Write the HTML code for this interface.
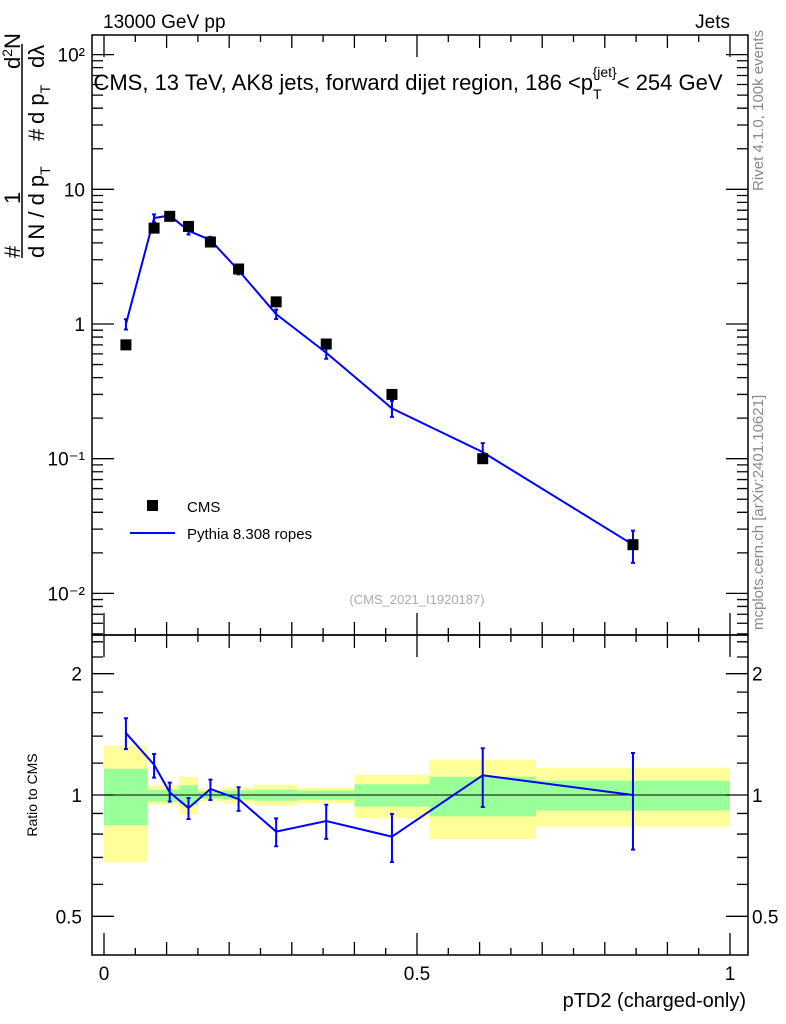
<!DOCTYPE html>
<html><head><meta charset="utf-8"><style>
body{margin:0;background:#fff;}
svg{display:block;font-family:"Liberation Sans",sans-serif;}
</style></head><body>
<svg id="c" width="786" height="1024" viewBox="0 0 786 1024">
<text x="103" y="28" font-size="19">13000 GeV pp</text>
<text x="730" y="28" font-size="19" text-anchor="end">Jets</text>
<text x="408" y="90" font-size="22" text-anchor="middle">CMS, 13 TeV, AK8 jets, forward dijet region, 186 &lt;p<tspan font-size="14" dy="9">T</tspan><tspan font-size="14" dy="-22" dx="-9">{jet}</tspan><tspan dy="13">&lt; 254 GeV</tspan></text>
<text transform="translate(763,30) rotate(-90)" font-size="15" fill="#888" text-anchor="end">Rivet 4.1.0,  100k events</text>
<text transform="translate(763,630) rotate(-90)" font-size="15" fill="#888">mcplots.cern.ch [arXiv:2401.10621]</text>
<g font-size="22">
<text transform="translate(20,258) rotate(-90)">#</text>
<text transform="translate(20,204) rotate(-90)">1</text>
<text transform="translate(20,69) rotate(-90)">d<tspan font-size="14" dy="-8">2</tspan><tspan dy="8">N</tspan></text>
<line x1="22" y1="44" x2="22" y2="258" stroke="#000" stroke-width="1.5"/>
<text transform="translate(44,258) rotate(-90)">d N / d p<tspan font-size="14" dy="6">T</tspan></text>
<text transform="translate(44,141) rotate(-90)">#</text>
<text transform="translate(44,124) rotate(-90)">d p<tspan font-size="14" dy="6">T</tspan></text>
<text transform="translate(44,68) rotate(-90)">dλ</text>
</g>
<text x="417" y="604" font-size="13" fill="#aaa" text-anchor="middle">(CMS_2021_I1920187)</text>
<rect x="147" y="500" width="11" height="11" fill="#000"/>
<text x="187" y="512" font-size="15">CMS</text>
<line x1="130" y1="533" x2="175" y2="533" stroke="#00f" stroke-width="2"/>
<text x="187" y="539" font-size="15">Pythia 8.308 ropes</text>
<text transform="translate(37,795) rotate(-90)" font-size="14" text-anchor="middle">Ratio to CMS</text>
<text x="746" y="1007" font-size="20" text-anchor="end">pTD2 (charged-only)</text>
<g id="g"></g>
</svg>
<script>
const binEdges=[0,0.07,0.09,0.12,0.15,0.19,0.24,0.31,0.40,0.52,0.69,1.0];
const xPoints=[0.035,0.08,0.105,0.135,0.17,0.215,0.275,0.355,0.46,0.605,0.845];
const cmsValues=[0.70,5.15,6.3,5.3,4.06,2.56,1.46,0.71,0.30,0.10,0.023];
const mcRatio=[1.425,1.189,1.015,0.928,1.035,0.977,0.811,0.862,0.788,1.119,1.0];
const mcRatioHi=[1.55,1.264,1.073,0.983,1.092,1.045,0.875,0.946,0.897,1.306,1.271];
const mcRatioLo=[1.30,1.104,0.963,0.872,0.972,0.913,0.746,0.778,0.682,0.934,0.732];
const bandYellowHi=[1.325,1.057,1.057,1.110,1.031,1.045,1.061,1.041,1.123,1.224,1.169];
const bandYellowLo=[0.681,0.946,0.946,0.894,0.964,0.953,0.941,0.955,0.875,0.778,0.834];
const bandGreenHi=[1.162,1.031,1.031,1.057,1.02,1.027,1.031,1.025,1.063,1.110,1.085];
const bandGreenLo=[0.841,0.964,0.964,0.946,0.98,0.974,0.968,0.974,0.936,0.885,0.915];
const mainTickLabels=["10⁻²","10⁻¹","1","10","10²"];
const ratioTickLabels=["0.5","1","2"];
const xTickLabels=["0","0.5","1"];

const NS="http://www.w3.org/2000/svg";
const g=document.getElementById('g');
const L=92,R=748,T=35,MB=635,RB=955;
const X=v=>104+626*v;
const Ym=v=>324-134.7*Math.log10(v);
const Yr=v=>795-121.3*Math.log2(v);
function mk(t,a){const e=document.createElementNS(NS,t);for(const k in a)e.setAttribute(k,a[k]);g.appendChild(e);return e;}
for(let i=0;i<xPoints.length;i++){
 const x0=X(binEdges[i]),x1=X(binEdges[i+1]);
 let e=mk('rect',{x:x0,y:Yr(bandYellowHi[i]),width:x1-x0,height:Yr(bandYellowLo[i])-Yr(bandYellowHi[i]),fill:'#ffff99'});
 
 
 e=mk('rect',{x:x0,y:Yr(bandGreenHi[i]),width:x1-x0,height:Yr(bandGreenLo[i])-Yr(bandGreenHi[i]),fill:'#99ff99'});
 
 
}
let e=mk('line',{x1:L,x2:R,y1:Yr(1),y2:Yr(1),stroke:'#000','stroke-width':1});


let pm='',pr='';
xPoints.forEach((x,i)=>{const v=cmsValues[i]*mcRatio[i];pm+=(i?'L':'M')+X(x)+','+Ym(v);pr+=(i?'L':'M')+X(x)+','+Yr(mcRatio[i]);});
e=mk('path',{d:pm,fill:'none',stroke:'#00f','stroke-width':2});


e=mk('path',{d:pr,fill:'none',stroke:'#00f','stroke-width':2});


function eb(x,y1,y2,name){const p='M'+x+','+y1+'V'+y2+'M'+(x-2)+','+y1+'h4M'+(x-2)+','+y2+'h4';
 const el=mk('path',{d:p,stroke:'#00f','stroke-width':2,fill:'none'});
 
 }
xPoints.forEach((x,i)=>{
 eb(X(x),Ym(cmsValues[i]*mcRatioHi[i]),Ym(cmsValues[i]*mcRatioLo[i]),'pythia-error-bar');
 eb(X(x),Yr(mcRatioHi[i]),Yr(mcRatioLo[i]),'pythia-ratio-error-bar');
 const s=mk('rect',{x:X(x)-5.5,y:Ym(cmsValues[i])-5.5,width:11,height:11,fill:'#000'});
 
 
});
e=mk('rect',{x:L,y:T,width:R-L,height:MB-T,fill:'none',stroke:'#000','stroke-width':1.5});


e=mk('rect',{x:L,y:MB,width:R-L,height:RB-MB,fill:'none',stroke:'#000','stroke-width':1.5});


let tk='';
for(let d=-3;d<=2;d++)for(let m=1;m<10;m++){const y=Ym(m*Math.pow(10,d));if(y<T||y>MB)continue;const len=m==1?22:11;tk+='M'+L+','+y+'h'+len+'M'+R+','+y+'h-'+len;}
[0.5,0.6,0.7,0.8,0.9,1,1.2,1.4,1.6,1.8,2,2.2,2.4].forEach(v=>{const y=Yr(v);const len=(v==0.5||v==1||v==2)?22:11;tk+='M'+L+','+y+'h'+len+'M'+R+','+y+'h-'+len;});
for(let k=0;k<=20;k++){const v=k*0.05,x=X(v);const len=k%10==0?22:(k%2==0?13:7);
 tk+='M'+x+','+RB+'v-'+len+'M'+x+','+MB+'v'+len+'M'+x+','+MB+'v-'+len+'M'+x+','+T+'v'+len;}
e=mk('path',{d:tk,stroke:'#000','stroke-width':1.3,fill:'none'});


[-2,-1,0,1,2].forEach((d,i)=>{const t=mk('text',{x:85,y:Ym(Math.pow(10,d))+7,'font-size':19,'text-anchor':'end'});t.textContent=mainTickLabels[i];
 
 });
[0.5,1,2].forEach((v,i)=>{const y=Yr(v)+7;
 let t=mk('text',{x:82,y:y,'font-size':19,'text-anchor':'end'});t.textContent=ratioTickLabels[i];
 
 
 t=mk('text',{x:752,y:y,'font-size':19});t.textContent=ratioTickLabels[i];
 
 });
[0,0.5,1].forEach((v,i)=>{const t=mk('text',{x:X(v),y:980,'font-size':19,'text-anchor':'middle'});t.textContent=xTickLabels[i];
 
 });
</script>
</body></html>
